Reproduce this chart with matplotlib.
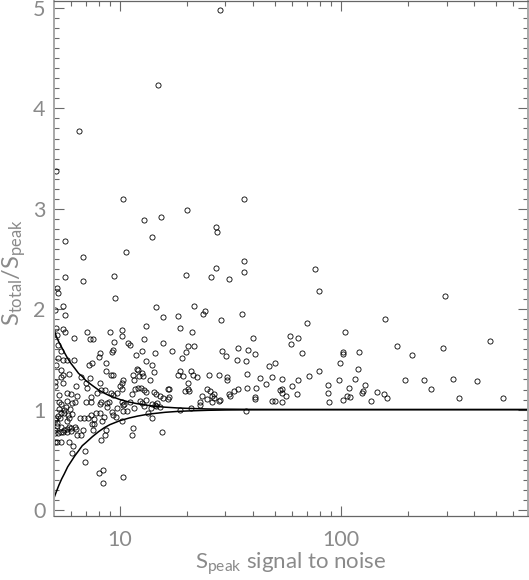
import matplotlib
matplotlib.use("Agg")
import matplotlib.pyplot as plt
from matplotlib.ticker import MultipleLocator, LogLocator, NullFormatter, FixedLocator, FixedFormatter

# ---- data: source signal-to-noise and total/peak flux ratio ----
snr = [
    28.4, 14.9, 6.55, 5.13, 10.3, 36.5, 20.0, 12.9, 15.3, 27.3, 27.6, 13.9, 5.64, 10.6, 6.78,
    36.5, 27.2, 36.5, 5.64, 9.36, 19.9, 25.8, 31.1, 6.78, 5.2, 5.25, 9.5, 76.2, 79.5, 293.5,
    21.5, 18.2, 24.2, 23.7, 35.6, 28.6, 18.6, 21.2, 39.8, 59.0, 64.1, 59.5, 20.2, 21.6, 17.2,
    19.9, 28.9, 34.2, 37.9, 40.6, 30.3, 19.0, 33.9, 37.1, 50.1, 47.4, 18.7, 21.0, 18.3, 19.3,
    21.3, 22.3, 25.2, 28.1, 30.5, 30.4, 37.6, 43.0, 48.7, 54.2, 63.7, 20.2, 20.4, 19.7, 20.5,
    16.5, 16.5, 24.8, 25.6, 26.6, 26.2, 26.6, 23.4, 24.7, 23.1, 23.1, 26.2, 27.9, 28.4, 31.0,
    31.5, 32.9, 34.2, 37.4, 41.1, 40.7, 41.0, 45.9, 48.9, 50.1, 52.9, 54.2, 53.9, 56.2, 60.0,
    54.2, 63.3, 37.3, 18.7, 20.9,
    70.4, 158.7, 104.0, 178.6, 290.0, 469.0, 66.8, 102.0, 101.5, 120.6, 209.0, 99.3, 79.8, 119.0, 71.5,
    87.1, 98.0, 115.0, 128.0, 194.0, 238.0, 322.0, 411.0, 254.0, 108.6, 87.5, 105.8, 110.0, 124.0, 125.6,
    146.0, 155.6, 161.0, 136.8, 102.5, 88.6, 343.0, 537.0,
    5.5, 14.6, 5.65, 15.6, 5.1, 13.1, 7.09, 9.04, 10.2, 10.2, 6.19, 7.34, 7.55, 9.36, 12.85,
    10.9, 11.06, 15.7, 12.6, 9.33, 9.17, 8.12, 8.04, 14.4, 11.85, 13.07, 5.77, 6.19, 5.24, 7.26,
    7.5, 8.67, 13.9, 11.9, 12.0, 5.43, 12.6, 8.64, 14.2, 9.07, 9.3, 11.5, 12.2, 5.9, 6.68,
    10.3, 10.2, 11.6, 12.75, 13.7, 7.34, 5.52, 6.34, 7.02, 8.12, 7.07, 8.18, 8.58, 10.03, 10.2,
    11.7, 12.0, 12.5, 12.85, 13.1, 14.2, 14.5, 16.6, 5.3, 5.74, 5.98, 6.42, 7.37, 7.85, 9.07,
    9.33, 9.66, 11.35, 15.1, 15.6, 16.7, 5.77, 6.07, 6.24, 7.02, 7.39, 8.2, 8.75, 8.94, 10.24,
    10.4, 11.1, 12.3, 13.1, 13.95, 14.75, 14.5, 5.3, 5.43,
    5.13, 5.2, 5.52, 5.64, 5.43, 5.13, 5.27, 5.5, 5.06, 5.1, 5.4, 5.52, 5.07, 5.2, 5.13,
    5.1, 5.1,
    5.3, 5.43, 5.27, 5.33, 5.70, 5.94, 6.04, 5.82, 5.88, 5.74, 5.58, 5.58, 5.17, 5.1, 5.43,
    5.24, 5.43, 5.58, 5.88, 5.77, 6.01, 6.23, 6.32, 5.54, 5.74, 5.98, 5.2, 5.39, 5.9, 6.14,
    6.07, 6.36, 6.68, 6.59, 6.9, 7.2, 7.37, 7.6, 7.5, 7.66, 7.79, 8.1, 8.47, 8.6, 8.3,
    7.55, 6.78, 8.18, 8.58, 8.12, 8.75, 9.22, 9.66, 9.25, 9.56, 10.3, 10.35, 10.8, 10.2, 11.5,
    11.3, 13.4, 13.9, 15.5, 6.98, 6.98, 8.07, 8.37, 8.4, 10.35, 11.6, 13.8, 14.4, 15.2, 12.6,
    12.85,
]
ratio = [
    4.98, 4.23, 3.78, 3.38, 3.10, 3.10, 2.99, 2.89, 2.92, 2.82, 2.77, 2.72, 2.68, 2.57, 2.52,
    2.48, 2.41, 2.37, 2.32, 2.33, 2.34, 2.32, 2.30, 2.28, 2.21, 2.16, 2.11, 2.40, 2.18, 2.13,
    2.03, 1.93, 1.98, 1.95, 1.95, 1.89, 1.81, 1.77, 1.71, 1.73, 1.71, 1.65, 1.63, 1.63, 1.58,
    1.57, 1.58, 1.61, 1.59, 1.55, 1.53, 1.51, 1.49, 1.48, 1.46, 1.43, 1.38, 1.38, 1.34, 1.33,
    1.34, 1.32, 1.345, 1.345, 1.32, 1.29, 1.35, 1.31, 1.32, 1.30, 1.29, 1.26, 1.21, 1.19, 1.19,
    1.21, 1.105, 1.21, 1.19, 1.16, 1.14, 1.12, 1.14, 1.105, 1.08, 1.05, 1.08, 1.09, 1.10, 1.16,
    1.14, 1.19, 1.21, 1.22, 1.22, 1.13, 1.105, 1.25, 1.09, 1.09, 1.20, 1.21, 1.17, 1.14, 1.23,
    1.075, 1.155, 0.985, 1.0, 1.02,
    1.86, 1.90, 1.77, 1.63, 1.61, 1.68, 1.565, 1.575, 1.55, 1.575, 1.54, 1.46, 1.38, 1.40, 1.33,
    1.24, 1.29, 1.30, 1.24, 1.29, 1.29, 1.30, 1.28, 1.21, 1.22, 1.17, 1.14, 1.13, 1.165, 1.185,
    1.18, 1.16, 1.12, 1.09, 1.095, 1.08, 1.115, 1.12,
    2.035, 2.025, 1.94, 1.92, 1.99, 1.83, 1.77, 1.77, 1.79, 1.73, 1.71, 1.70, 1.70, 1.67, 1.70,
    1.66, 1.64, 1.66, 1.585, 1.59, 1.57, 1.565, 1.52, 1.565, 1.54, 1.48, 1.49, 1.49, 1.51, 1.44,
    1.46, 1.46, 1.44, 1.40, 1.39, 1.39, 1.36, 1.38, 1.37, 1.34, 1.345, 1.34, 1.33, 1.35, 1.32,
    1.29, 1.26, 1.29, 1.33, 1.29, 1.31, 1.26, 1.23, 1.26, 1.265, 1.22, 1.195, 1.195, 1.23, 1.21,
    1.21, 1.22, 1.22, 1.20, 1.175, 1.18, 1.16, 1.21, 1.15, 1.165, 1.155, 1.14, 1.13, 1.165, 1.165,
    1.145, 1.17, 1.155, 1.14, 1.12, 1.13, 1.09, 1.066, 1.08, 1.08, 1.08, 1.075, 1.065, 1.075, 1.08,
    1.06, 1.08, 1.085, 1.095, 1.06, 1.07, 1.04, 1.08, 1.06,
    1.81, 1.745, 1.80, 1.77, 1.58, 1.445, 1.645, 1.49, 1.27, 1.23, 1.32, 1.34, 0.90, 0.87, 0.92,
    0.77, 0.68,
    1.003, 0.97, 0.94, 0.92, 1.03, 1.01, 0.96, 0.945, 0.92, 0.89, 1.0, 0.965, 0.84, 0.80, 0.83,
    0.77, 0.78, 0.80, 0.83, 0.81, 0.82, 0.83, 0.81, 0.775, 0.775, 0.79, 0.68, 0.68, 0.68, 0.64,
    0.57, 0.75, 0.75, 0.92, 0.92, 0.92, 0.95, 0.91, 0.86, 0.86, 0.965, 0.97, 0.93, 0.80, 0.89,
    0.80, 0.80, 0.70, 0.75, 1.055, 1.03, 0.98, 1.015, 0.945, 0.93, 1.05, 0.99, 0.99, 0.885, 0.82,
    0.75, 0.965, 0.92, 0.78, 0.59, 0.475, 0.37, 0.395, 0.265, 0.33, 1.02, 1.02, 1.05, 1.03, 1.065,
    1.04,
]

# ---- envelope curves ----
env_snr = [5.03, 5.15, 5.3, 5.45, 5.6, 5.8, 6.0, 6.25, 6.5, 6.75, 7.0, 7.5, 8.0, 8.5, 9.0,
           10, 11, 12, 13, 14, 16, 18, 20, 25, 30, 40, 60, 100, 200, 700]
env_upper = [1.80, 1.73, 1.67, 1.62, 1.57, 1.51, 1.46, 1.41, 1.36, 1.33, 1.29, 1.24, 1.195, 1.163, 1.137,
             1.10, 1.075, 1.058, 1.046, 1.036, 1.024, 1.017, 1.0125, 1.006, 1.004, 1.002, 1.0005, 1.0, 1.0, 1.0]
env_lower = [0.12, 0.18, 0.25, 0.31, 0.36, 0.43, 0.48, 0.54, 0.59, 0.64, 0.67, 0.73, 0.78, 0.82, 0.85,
             0.89, 0.916, 0.935, 0.949, 0.959, 0.973, 0.981, 0.986, 0.993, 0.996, 0.998, 0.9995, 1.0, 1.0, 1.0]

x_major = [10, 100]
x_major_labels = ["10", "100"]
y_major = [0, 1, 2, 3, 4, 5]

FONT = ["Lato", "DejaVu Sans"]
GREY = "#8a8a8a"

fig = plt.figure(figsize=(5.29, 5.80), dpi=100)
ax = fig.add_axes([54 / 529, 64 / 580, 474 / 529, 515 / 580])

ax.plot(snr, ratio, linestyle="none", marker="o", markersize=3.7,
        markerfacecolor="none", markeredgecolor="black", markeredgewidth=0.6)
ax.plot(env_snr, env_upper, color="black", lw=1.1)
ax.plot(env_snr, env_lower, color="black", lw=1.1)

ax.set_xscale("log")
ax.set_xlim(5.03, 700)
ax.set_ylim(-0.06, 5.07)

ax.xaxis.set_major_locator(FixedLocator(x_major))
ax.xaxis.set_major_formatter(FixedFormatter(x_major_labels))
ax.xaxis.set_minor_locator(LogLocator(base=10, subs=range(2, 10)))
ax.xaxis.set_minor_formatter(NullFormatter())
ax.yaxis.set_major_locator(FixedLocator(y_major))
ax.yaxis.set_minor_locator(MultipleLocator(0.1))

ax.tick_params(which="both", direction="in", top=True, right=True, color="#6a6a6a",
               labelcolor=GREY, width=0.8)
ax.tick_params(which="major", length=7.2, labelsize=15.5)
ax.tick_params(which="minor", length=3.6)
ax.tick_params(axis="x", which="major", pad=10)
ax.tick_params(axis="y", which="major", pad=6)
for lab in ax.get_xticklabels() + ax.get_yticklabels():
    lab.set_family(FONT)
    lab.set_fontweight("normal")

for side in ["left", "right"]:
    ax.spines[side].set_color("#a8a8a8")
    ax.spines[side].set_linewidth(1.4)
for side in ["top", "bottom"]:
    ax.spines[side].set_color("#666666")
    ax.spines[side].set_linewidth(0.9)

fig.text(291 / 529, 1 - 569 / 580, r"$\mathregular{S_{peak}}$ signal to noise",
         ha="center", va="baseline", fontsize=16, color=GREY, family=FONT, fontweight="normal")
fig.text(14 / 529, 1 - 272 / 580, r"$\mathregular{S_{total}/S_{peak}}$",
         ha="center", va="center", rotation=90, fontsize=17, color=GREY, family=FONT,
         fontweight="normal")

fig.savefig("out.png", dpi=100)
